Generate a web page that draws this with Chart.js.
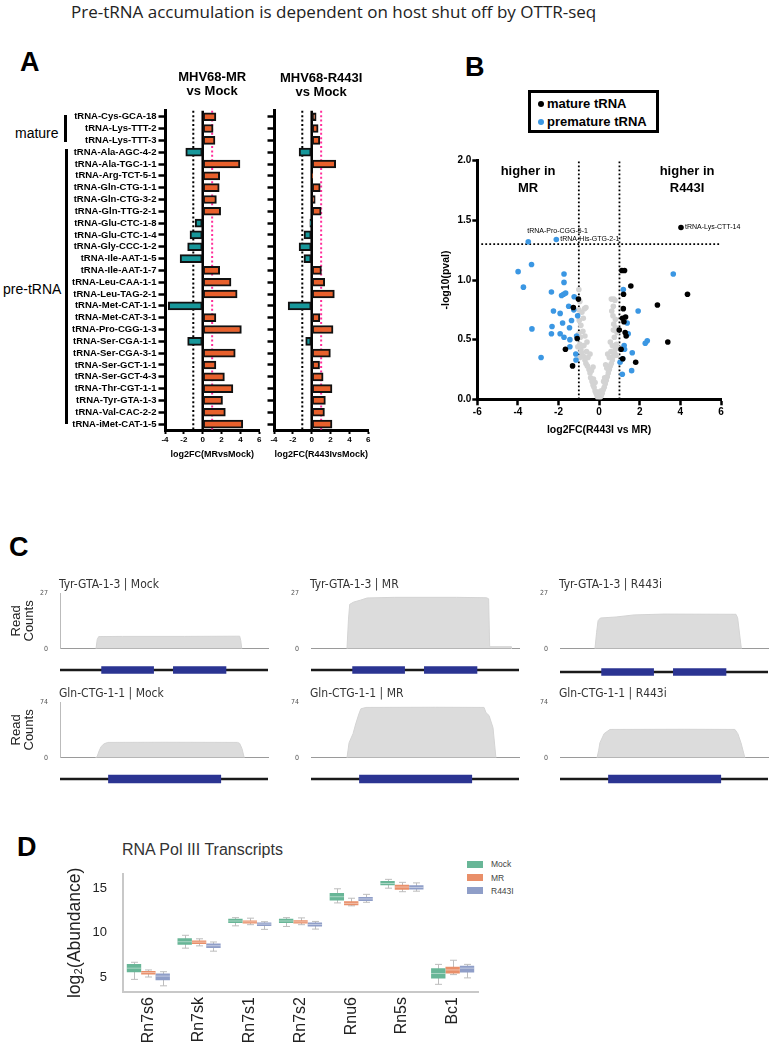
<!DOCTYPE html>
<html><head><meta charset="utf-8">
<script src="https://cdn.jsdelivr.net/npm/chart.js@4.4.1/dist/chart.umd.min.js"></script>
<style>
html,body{margin:0;padding:0;background:#fff;}
body{width:771px;height:1050px;position:relative;overflow:hidden;font-family:"Liberation Sans",Arial,sans-serif;}
canvas{position:absolute;}
.abs{position:absolute;white-space:nowrap;}
.letter{font-weight:bold;font-size:27px;line-height:27px;color:#000;}
.lgB{position:absolute;left:528px;top:90px;width:131px;height:43px;border:3px solid #000;box-sizing:border-box;}
.lgB .it{position:absolute;left:16px;font:bold 13px "Liberation Sans",Arial,sans-serif;line-height:16px;color:#000;}
.lgB .dot{position:absolute;left:-9px;top:5px;width:6px;height:6px;border-radius:50%;}
.lgD .sw{position:absolute;left:467px;width:16px;height:7px;}
.lgD .tx{position:absolute;left:491px;font:8.5px "Liberation Sans",Arial,sans-serif;line-height:10px;color:#444;}
</style></head><body>

<div class="abs" style="left:71px;top:1px;font:17px 'Open Sans',sans-serif;line-height:22px;color:#222;">Pre-tRNA accumulation is dependent on host shut off by OTTR-seq</div>

<div class="abs letter" style="left:20px;top:49px;">A</div>
<div class="abs letter" style="left:465px;top:54px;">B</div>
<div class="abs letter" style="left:9px;top:534px;">C</div>
<div class="abs letter" style="left:17px;top:834px;">D</div>

<div class="abs" style="left:15px;top:125px;font-size:14px;line-height:16px;">mature</div>
<div class="abs" style="left:64px;top:115px;width:3px;height:27px;background:#000;"></div>
<div class="abs" style="left:3px;top:281px;font-size:14px;line-height:16px;">pre-tRNA</div>
<div class="abs" style="left:65px;top:149px;width:3px;height:275px;background:#000;"></div>

<div class="lgB">
  <div class="it" style="top:3px;"><span class="dot" style="background:#000;"></span>mature tRNA</div>
  <div class="it" style="top:21px;"><span class="dot" style="background:#3B97E3;"></span>premature tRNA</div>
</div>

<div class="abs" style="left:122px;top:841px;font-size:16px;line-height:18px;color:#333;">RNA Pol III Transcripts</div>
<div class="lgD">
  <div class="sw" style="top:860.5px;background:#68B697;"></div><div class="tx" style="top:859px;">Mock</div>
  <div class="sw" style="top:874px;background:#E98F69;"></div><div class="tx" style="top:872.5px;">MR</div>
  <div class="sw" style="top:887px;background:#8F9EC8;"></div><div class="tx" style="top:885.5px;">R443I</div>
</div>

<script>
// ================= DATA =================
// Panel A
const tRNAs = ['tRNA-Cys-GCA-18','tRNA-Lys-TTT-2','tRNA-Lys-TTT-3','tRNA-Ala-AGC-4-2','tRNA-Ala-TGC-1-1',
  'tRNA-Arg-TCT-5-1','tRNA-Gln-CTG-1-1','tRNA-Gln-CTG-3-2','tRNA-Gln-TTG-2-1','tRNA-Glu-CTC-1-8',
  'tRNA-Glu-CTC-1-4','tRNA-Gly-CCC-1-2','tRNA-Ile-AAT-1-5','tRNA-Ile-AAT-1-7','tRNA-Leu-CAA-1-1',
  'tRNA-Leu-TAG-2-1','tRNA-Met-CAT-1-1','tRNA-Met-CAT-3-1','tRNA-Pro-CGG-1-3','tRNA-Ser-CGA-1-1',
  'tRNA-Ser-CGA-3-1','tRNA-Ser-GCT-1-1','tRNA-Ser-GCT-4-3','tRNA-Thr-CGT-1-1','tRNA-Tyr-GTA-1-3',
  'tRNA-Val-CAC-2-2','tRNA-iMet-CAT-1-5'];
const log2fcMRvsMock = [1.4,1.1,1.3,-1.8,3.95,1.8,1.75,1.45,1.9,-0.8,-1.35,-1.6,-2.4,1.8,3.0,3.65,-3.65,1.4,4.1,-1.6,3.45,1.4,2.3,3.2,2.1,2.4,4.25];
const log2fcR443IvsMock = [0.47,0.68,0.86,-1.34,2.54,0.1,0.9,0.37,1.0,-0.2,-0.82,-1.34,-0.82,1.03,1.38,2.4,-2.5,0.86,2.26,-0.64,1.98,0.83,1.21,2.15,1.45,1.35,2.15];
const ticksA = [-4,-2,0,2,4,6];
const foldThresholdsA = [-1, 1];

// Panel B  ([log2FC, -log10 p])
const matureTRNA = [[4.03,1.44],[1.12,1.08],[1.25,1.08],[1.56,0.95],[1.2,0.88],[4.35,0.88],[2.87,0.79],[1.19,0.76],
  [1.3,0.69],[1.15,0.68],[1.22,0.65],[0.99,0.58],[1.28,0.56],[1.33,0.53],[3.38,0.48],[1.08,0.42],[1.8,0.31],
  [1.16,0.34],[-1.02,0.84],[-1.27,0.77],[-1.08,0.51],[-1.66,0.42],[-1.31,0.28]];
const prematureTRNA = [[-3.49,1.32],[-2.11,1.34],[-3.33,1.13],[-3.99,1.07],[-1.73,1.05],[-3.73,0.94],[-1.73,0.98],
  [-2.35,0.9],[-1.65,0.89],[-1.85,0.87],[-1.75,0.88],[-1.23,0.86],[-1.5,0.78],[-2.25,0.74],[-1.92,0.72],[-1.25,0.75],
  [-1.06,0.7],[-1.8,0.64],[-1.36,0.66],[-2.32,0.61],[-1.46,0.6],[-3.31,0.59],[-2.35,0.55],[-1.92,0.55],[-1.73,0.52],
  [-1.44,0.5],[-1.11,0.53],[-1.44,0.44],[-1.15,0.38],[-1.14,0.33],[-2.86,0.35],
  [3.65,1.05],[1.19,0.92],[1.92,0.74],[2.37,0.49],[2.27,0.47],[1.38,0.64],[1.43,0.55],[1.63,0.39],[1.6,0.24],
  [1.14,0.21],[1.23,0.45],[1.25,0.42],[1.03,0.31],[1.16,0.34]];
const otherTRNA = [[0,0],[-0.05,0.01],[0.05,0.02],[-0.1,0.03],[0.1,0.03],[-0.15,0.05],[0.15,0.05],[-0.2,0.07],
  [0.2,0.08],[-0.25,0.1],[0.25,0.1],[-0.08,0.06],[0.08,0.07],[-0.3,0.12],[-0.35,0.15],[-0.42,0.18],[-0.28,0.17],
  [0.3,0.13],[0.35,0.16],[0.4,0.19],[0.27,0.18],[-0.2,0.14],[0.22,0.15],[-0.45,0.22],[-0.5,0.25],[-0.58,0.28],
  [-0.38,0.24],[-0.3,0.27],[0.45,0.22],[0.5,0.25],[0.55,0.28],[0.38,0.26],[0.32,0.29],[-0.65,0.3],[0.6,0.3],
  [-0.7,0.33],[-0.78,0.36],[-0.85,0.39],[-0.55,0.35],[-0.45,0.38],[-0.62,0.4],[0.65,0.33],[0.7,0.36],[0.75,0.39],
  [0.5,0.35],[0.42,0.38],[0.58,0.4],[-0.95,0.35],[0.85,0.37],[-0.9,0.42],[-0.95,0.46],[-0.75,0.45],[-0.6,0.48],
  [-1.05,0.44],[0.8,0.42],[0.85,0.46],[0.65,0.45],[0.55,0.48],[0.92,0.43],[-0.92,0.52],[-1.0,0.55],[-0.8,0.57],
  [-0.7,0.53],[0.75,0.52],[0.88,0.56],[0.7,0.58],[0.82,0.6],[-0.9,0.62],[-0.98,0.66],[-0.78,0.68],[0.72,0.63],
  [0.8,0.67],[0.68,0.7],[-0.85,0.73],[-1.0,0.75],[-0.72,0.76],[-0.65,0.77],[-0.95,0.82],[-1.0,0.92],[0.62,0.74],
  [0.7,0.78],[0.78,0.83],[0.6,0.84],[0.72,0.84]];
const labeledTRNA = [{name:'tRNA-Pro-CGG-5-1', x:-3.49, y:1.32, pos:'above'},
  {name:'tRNA-His-GTG-2-1', x:-2.11, y:1.34, pos:'right'},
  {name:'tRNA-Lys-CTT-14', x:4.03, y:1.44, pos:'right'}];
const fcThresholdsB = [-1, 1];
const pThresholdB = 1.3;

// Panel C  ([relative position, read count])
const tyrMock = [[17.3,0],[17.9,4.5],[18.6,5.9],[30,6.0],[60,6.0],[86.4,6.1],[86.9,4.0],[87.4,0]];
const tyrMR = [[17.3,0],[18.0,14],[18.6,21.5],[20.5,22.6],[24,23.6],[27,24.6],[40,24.9],[70,24.9],[84.4,24.7],[85.4,24.2],[85.9,1.0],[96.2,1.0],[96.4,0]];
const tyrR443i = [[16.8,0],[17.6,8],[18.3,13.6],[19.4,14.9],[27,15.4],[35.6,16.4],[50,16.8],[84.6,16.7],[85.4,15],[87.2,0]];
const glnMock = [[17.0,0],[17.8,1.2],[18.8,9],[19.8,15],[21.2,18.6],[23,20.4],[50,20.6],[85.4,20.4],[86.4,19],[87.5,12],[88.6,0]];
const glnMR = [[17.3,0],[18.3,20],[20.2,32],[21.5,45],[23,58],[24,65],[26.4,66.8],[60,67],[83.2,66.8],[84.1,60],[85.6,56],[87.5,40],[88.9,0]];
const glnR443i = [[17.8,0],[18.6,10],[19.2,20],[21.2,32],[24,37.6],[60,37.8],[84.1,37.6],[85.5,32],[87,20],[88.9,0]];
const tyrMaxCount = 27, glnMaxCount = 74;
const tyrExons = [[20,45],[54.5,79.8]];
const glnExons = [[23.3,77.3]];
const geneWindow = [0,100];

// Panel D
const pol3Genes = ['Rn7s6','Rn7sk','Rn7s1','Rn7s2','Rnu6','Rn5s','Bc1'];
const mockMin = [4.73,8.27,10.8,10.73,13.4,15.07,4.17];
const mockQ1  = [5.53,8.67,11.13,11.13,13.67,15.4,4.83];
const mockMed = [6.0,9.0,11.35,11.35,14.1,15.6,5.4];
const mockQ3  = [6.47,9.4,11.6,11.6,14.53,15.87,6.0];
const mockMax = [6.67,9.73,11.73,11.73,15.0,16.07,6.43];
const mrMin = [5.0,8.53,10.93,10.93,13.07,14.67,5.27];
const mrQ1  = [5.27,8.73,11.07,11.07,13.13,14.9,5.4];
const mrMed = [5.5,8.95,11.25,11.25,13.35,15.2,5.8];
const mrQ3  = [5.67,9.13,11.4,11.43,13.6,15.47,6.17];
const mrMax = [5.8,9.33,11.67,11.7,13.93,15.73,6.9];
const r443iMin = [4.0,7.93,10.4,10.43,13.47,14.73,4.9];
const r443iQ1  = [4.63,8.3,10.77,10.73,13.63,14.93,5.5];
const r443iMed = [5.1,8.55,11.0,10.95,13.85,15.15,6.0];
const r443iQ3  = [5.4,8.8,11.17,11.17,14.07,15.4,6.27];
const r443iMax = [5.6,8.97,11.27,11.3,14.37,15.67,6.43];
const ticksD = [5,10,15];

// ================= HELPERS =================
const FONT = '"Liberation Sans", Arial, Helvetica, sans-serif';
const NARROW = '"Liberation Sans Narrow", "DejaVu Sans Condensed", "Roboto Condensed", sans-serif';
Chart.defaults.font.family = FONT;
Chart.defaults.color = '#000';
const ORANGE = '#E8602C', TEAL = '#17979A';
const noPlug = {legend:{display:false}, tooltip:{enabled:false}};

function mkCanvas(left, top, w, h) {
  const c = document.createElement('canvas');
  c.width = w; c.height = h;
  c.style.left = left + 'px'; c.style.top = top + 'px';
  c.style.width = w + 'px'; c.style.height = h + 'px';
  document.body.appendChild(c);
  return c;
}

// ================= PANEL A =================
function refLinesA(id) {
  return { id, beforeDatasetsDraw(chart) {
    const {ctx, chartArea:{top, bottom}, scales:{x}} = chart;
    ctx.save();
    const x0 = x.getPixelForValue(0);
    ctx.strokeStyle = '#000'; ctx.lineWidth = 2.5;
    ctx.beginPath(); ctx.moveTo(x0, top); ctx.lineTo(x0, bottom); ctx.stroke();
    ctx.setLineDash([2, 2.4]); ctx.lineWidth = 2;
    const cols = ['#000', '#FF2E9A'];
    foldThresholdsA.forEach((t, i) => {
      const px = x.getPixelForValue(t);
      ctx.strokeStyle = cols[i];
      ctx.beginPath(); ctx.moveTo(px, top); ctx.lineTo(px, bottom); ctx.stroke();
    });
    ctx.restore();
  }};
}
function titleA(id, lines, ys) {
  return { id, afterDraw(chart) {
    const {ctx, chartArea} = chart;
    ctx.save();
    ctx.font = 'bold 13px ' + FONT; ctx.fillStyle = '#000';
    ctx.textAlign = 'center'; ctx.textBaseline = 'middle';
    const cx = (chartArea.left + chartArea.right) / 2;
    lines.forEach((l, i) => ctx.fillText(l, cx, ys[i]));
    ctx.restore();
  }};
}
function barChartA(left, width, yWidth, values, showLabels, xTitle, titleLines, titleYs, id) {
  const top = 60, height = 410;
  const c = mkCanvas(left, top, width, height);
  return new Chart(c, {
    type: 'bar',
    data: { labels: tRNAs, datasets: [{
      data: values,
      backgroundColor: ctx => (ctx.raw < 0 ? TEAL : ORANGE),
      borderColor: '#111', borderWidth: 2, borderSkipped: false, barThickness: 8
    }]},
    options: {
      indexAxis: 'y', responsive: false, animation: false, events: [],
      layout: { padding: { top: 110.8 - top, right: width - (yWidth + 94.3), bottom: height - (430 - top) - 30.4, left: 0 } },
      plugins: noPlug,
      scales: {
        x: { type: 'linear', min: -4, max: 6,
          afterBuildTicks: s => { s.ticks = ticksA.map(v => ({value: v})); },
          ticks: { font: {size: 8, weight: 'bold'}, color: '#000', padding: 1 },
          grid: { drawOnChartArea: false, drawTicks: true, tickLength: 4, tickWidth: 2, tickColor: '#000' },
          border: { display: true, color: '#000', width: 3 },
          title: { display: true, text: xTitle, font: {size: 9, weight: 'bold'}, color: '#000', padding: {top: 0, bottom: 0} },
          afterFit: s => { s.height = 30.4; } },
        y: { ticks: { display: showLabels, font: {size: 9.5, weight: 'bold'}, color: '#000', padding: 2, autoSkip: false },
          grid: { offset: false, drawOnChartArea: false, drawTicks: true, tickLength: 6.5, tickWidth: 2.5, tickColor: '#000' },
          border: { display: true, color: '#000', width: 3 },
          afterFit: s => { s.width = yWidth; } }
      }
    },
    plugins: [refLinesA(id + 'lines'), titleA(id + 'title', titleLines, titleYs.map(y => y - top))]
  });
}
barChartA(0, 272, 165, log2fcMRvsMock, true, 'log2FC(MRvsMock)', ['MHV68-MR', 'vs Mock'], [77, 91], 'a1');
barChartA(262, 120, 12, log2fcR443IvsMock, false, 'log2FC(R443IvsMock)', ['MHV68-R443I', 'vs Mock'], [78, 92], 'a2');

// ================= PANEL B =================
(function () {
  const left = 430, top = 150, w = 340, h = 290;
  const c = mkCanvas(left, top, w, h);
  const toPts = arr => arr.map(p => ({x: p[0], y: p[1]}));
  const refLines = { id: 'bLines', beforeDatasetsDraw(chart) {
    const {ctx, chartArea: ca, scales: {x, y}} = chart;
    ctx.save();
    ctx.strokeStyle = '#000'; ctx.lineWidth = 1.8; ctx.setLineDash([1.8, 2.2]);
    fcThresholdsB.forEach(t => {
      const px = x.getPixelForValue(t);
      ctx.beginPath(); ctx.moveTo(px, y.getPixelForValue(0)); ctx.lineTo(px, y.getPixelForValue(2)); ctx.stroke();
    });
    const py = y.getPixelForValue(pThresholdB);
    ctx.beginPath(); ctx.moveTo(ca.left + 4, py); ctx.lineTo(x.getPixelForValue(6), py); ctx.stroke();
    ctx.restore();
  }};
  const notes = { id: 'bNotes', afterDatasetsDraw(chart) {
    const {ctx, scales: {x, y}} = chart;
    ctx.save();
    ctx.fillStyle = '#000'; ctx.textBaseline = 'middle';
    ctx.font = 'bold 13px ' + FONT; ctx.textAlign = 'center';
    ctx.fillText('higher in', x.getPixelForValue(-3.5), y.getPixelForValue(1.91));
    ctx.fillText('MR', x.getPixelForValue(-3.5), y.getPixelForValue(1.77));
    ctx.fillText('higher in', x.getPixelForValue(4.33), y.getPixelForValue(1.91));
    ctx.fillText('R443I', x.getPixelForValue(4.33), y.getPixelForValue(1.77));
    ctx.font = '7px ' + FONT; ctx.textAlign = 'left';
    labeledTRNA.forEach(p => {
      const px = x.getPixelForValue(p.x), py = y.getPixelForValue(p.y);
      if (p.pos === 'above') ctx.fillText(p.name, px - 1, py - 11);
      else ctx.fillText(p.name, px + 4, py);
    });
    ctx.restore();
  }};
  new Chart(c, {
    type: 'scatter',
    data: { datasets: [
      { label: 'mature tRNA', data: toPts(matureTRNA), backgroundColor: '#000', pointRadius: 2.8, borderWidth: 0 },
      { label: 'premature tRNA', data: toPts(prematureTRNA), backgroundColor: '#3B97E3', pointRadius: 2.8, borderWidth: 0 },
      { label: 'other', data: toPts(otherTRNA), backgroundColor: '#D3D3D3', pointRadius: 2.8, borderWidth: 0 }
    ]},
    options: {
      responsive: false, animation: false, events: [],
      layout: { padding: { top: 10.7, right: 49, bottom: 0, left: 0 } },
      plugins: noPlug,
      scales: {
        x: { type: 'linear', min: -6, max: 6, ticks: { stepSize: 2, font: {size: 10, weight: 'bold'}, color: '#000', padding: 1 },
          grid: { drawOnChartArea: false, drawTicks: true, tickLength: 6, tickWidth: 2.5, tickColor: '#000' },
          border: { display: true, color: '#000', width: 3 },
          title: { display: true, text: 'log2FC(R443I vs MR)', font: {size: 10.5, weight: 'bold'}, color: '#000', padding: {top: 0, bottom: 4} },
          afterFit: s => { s.height = 40.7; } },
        y: { type: 'linear', min: 0, max: 2, ticks: { stepSize: 0.5, callback: v => v.toFixed(1), font: {size: 10, weight: 'bold'}, color: '#000', padding: 1 },
          grid: { drawOnChartArea: false, drawTicks: true, tickLength: 5, tickWidth: 2.5, tickColor: '#000' },
          border: { display: true, color: '#000', width: 3 },
          title: { display: true, text: '-log10(pval)', font: {size: 10.5, weight: 'bold'}, color: '#000', padding: {top: 10, bottom: 0} },
          afterFit: s => { s.width = 47.3; } }
      }
    },
    plugins: [refLines, notes]
  });
})();

// ================= PANEL C =================
function coverageChart(areaLeft, areaTop, areaBottom, series, ymax, showAxis, title, id) {
  const cTop = areaTop - 18, cH = 90, cLeft = areaLeft - 60, cW = 270;
  const c = mkCanvas(cLeft, cTop, cW, cH);
  const ttl = { id: id + 't', afterDraw(chart) {
    const {ctx, chartArea} = chart;
    ctx.save(); ctx.font = '12px ' + NARROW; ctx.fillStyle = '#333';
    ctx.textAlign = 'left'; ctx.textBaseline = 'middle';
    ctx.fillText(title, chartArea.left - 1, chartArea.top - 8);
    ctx.restore();
  }};
  new Chart(c, {
    type: 'line',
    data: { datasets: [{ data: series.map(p => ({x: p[0], y: p[1]})), fill: 'origin',
      backgroundColor: '#DCDCDC', borderColor: '#D4D4D4', borderWidth: 1, pointRadius: 0, tension: 0 }]},
    options: {
      responsive: false, animation: false, events: [],
      layout: { padding: { left: 0, right: cW - 60 - 208, top: 18, bottom: cH - 18 - (areaBottom - areaTop) } },
      plugins: noPlug,
      scales: {
        x: { type: 'linear', min: geneWindow[0], max: geneWindow[1], ticks: { display: false },
          grid: { display: false, drawTicks: false }, border: { display: true, color: '#9a9a9a', width: 1 },
          afterFit: s => { s.height = 0; } },
        y: { type: 'linear', min: 0, max: ymax,
          afterBuildTicks: s => { s.ticks = [{value: 0}, {value: ymax}]; },
          ticks: { font: {family: NARROW, size: 7}, color: '#555', padding: 12 },
          grid: { display: false, drawTicks: false },
          border: { display: showAxis, color: '#bbb', width: 1 },
          title: { display: showAxis, text: ['Read', 'Counts'], font: {family: FONT, size: 13, lineHeight: 1}, color: '#222', padding: {top: 9.5, bottom: 0} },
          afterFit: s => { s.width = 60; } }
      }
    },
    plugins: [ttl]
  });
}
function trackChart(areaLeft, centerY, exons, thick) {
  const c = mkCanvas(areaLeft, centerY - 6, 208, 12);
  const ds = exons.map(e => ({ data: [e], backgroundColor: '#2B3492', borderWidth: 0, barThickness: thick, grouped: false }));
  ds.push({ data: [geneWindow], backgroundColor: '#1a1a1a', borderWidth: 0, barThickness: 1.6, grouped: false });
  new Chart(c, {
    type: 'bar',
    data: { labels: ['gene'], datasets: ds },
    options: { indexAxis: 'y', responsive: false, animation: false, events: [], layout: { padding: 0 }, plugins: noPlug,
      scales: { x: { type: 'linear', min: geneWindow[0], max: geneWindow[1], display: false }, y: { display: false } } }
  });
}
const cLefts = [60, 311, 560];
coverageChart(cLefts[0], 593, 660.5, tyrMock, tyrMaxCount, true, 'Tyr-GTA-1-3 | Mock', 'c1');
coverageChart(cLefts[1], 593, 660.5, tyrMR, tyrMaxCount, false, 'Tyr-GTA-1-3 | MR', 'c2');
coverageChart(cLefts[2], 593, 660.5, tyrR443i, tyrMaxCount, false, 'Tyr-GTA-1-3 | R443i', 'c3');
coverageChart(cLefts[0], 701.7, 769.3, glnMock, glnMaxCount, true, 'Gln-CTG-1-1 | Mock', 'c4');
coverageChart(cLefts[1], 701.7, 769.3, glnMR, glnMaxCount, false, 'Gln-CTG-1-1 | MR', 'c5');
coverageChart(cLefts[2], 701.7, 769.3, glnR443i, glnMaxCount, false, 'Gln-CTG-1-1 | R443i', 'c6');
trackChart(cLefts[0], 669.5, tyrExons, 7);
trackChart(cLefts[1], 670, tyrExons, 7);
trackChart(cLefts[2], 671.5, tyrExons, 7);
trackChart(cLefts[0], 779.3, glnExons, 7.6);
trackChart(cLefts[1], 779.3, glnExons, 7.6);
trackChart(cLefts[2], 779.3, glnExons, 7.6);

// ================= PANEL D =================
(function () {
  const left = 55, top = 850, w = 470, h = 200;
  const c = mkCanvas(left, top, w, h);
  const groups = [
    { label: 'Mock', color: '#68B697', q1: mockQ1, q3: mockQ3, med: mockMed, min: mockMin, max: mockMax },
    { label: 'MR', color: '#E98F69', q1: mrQ1, q3: mrQ3, med: mrMed, min: mrMin, max: mrMax },
    { label: 'R443I', color: '#8F9EC8', q1: r443iQ1, q3: r443iQ3, med: r443iMed, min: r443iMin, max: r443iMax }
  ];
  const whiskers = { id: 'whiskers',
    beforeDatasetsDraw(chart) {
      const {ctx, scales: {y}} = chart;
      ctx.save(); ctx.strokeStyle = '#BDBDBD'; ctx.lineWidth = 1;
      groups.forEach((g, gi) => {
        chart.getDatasetMeta(gi).data.forEach((bar, i) => {
          const x = Math.round(bar.x) + 0.5;
          const yMax = y.getPixelForValue(g.max[i]), yMin = y.getPixelForValue(g.min[i]);
          ctx.beginPath();
          ctx.moveTo(x, yMax); ctx.lineTo(x, yMin);
          ctx.moveTo(x - 3.5, yMax); ctx.lineTo(x + 3.5, yMax);
          ctx.moveTo(x - 3.5, yMin); ctx.lineTo(x + 3.5, yMin);
          ctx.stroke();
        });
      });
      ctx.restore();
    },
    afterDatasetsDraw(chart) {
      const {ctx, scales: {y}} = chart;
      ctx.save(); ctx.strokeStyle = 'rgba(255,255,255,0.45)'; ctx.lineWidth = 1;
      groups.forEach((g, gi) => {
        chart.getDatasetMeta(gi).data.forEach((bar, i) => {
          const py = y.getPixelForValue(g.med[i]);
          ctx.beginPath(); ctx.moveTo(bar.x - bar.width / 2, py); ctx.lineTo(bar.x + bar.width / 2, py); ctx.stroke();
        });
      });
      ctx.restore();
    }
  };
  new Chart(c, {
    type: 'bar',
    data: { labels: pol3Genes, datasets: groups.map(g => ({
      label: g.label, data: g.q1.map((v, i) => [v, g.q3[i]]),
      backgroundColor: g.color, borderWidth: 0, categoryPercentage: 0.85, barPercentage: 1.0 })) },
    options: {
      responsive: false, animation: false, events: [],
      layout: { padding: { top: 8, right: 47, bottom: 0, left: 0 } },
      plugins: noPlug,
      scales: {
        x: { ticks: { maxRotation: 90, minRotation: 90, autoSkip: false, font: {size: 16}, color: '#222', padding: 5 },
          grid: { display: false, drawTicks: false }, border: { display: true, color: '#C8C8C8', width: 2 },
          afterFit: s => { s.height = 58; } },
        y: { type: 'linear', min: 3.3, max: 16.7, stacked: false,
          afterBuildTicks: s => { s.ticks = ticksD.map(v => ({value: v})); },
          ticks: { font: {size: 13}, color: '#222', padding: 16 },
          grid: { display: false, drawTicks: false }, border: { display: true, color: '#C8C8C8', width: 2 },
          title: { display: true, text: 'log\u2082(Abundance)', font: {size: 17.5}, color: '#222', padding: {top: 10, bottom: 0} },
          afterFit: s => { s.width = 68; } }
      }
    },
    plugins: [whiskers]
  });
})();
</script>
</body></html>
